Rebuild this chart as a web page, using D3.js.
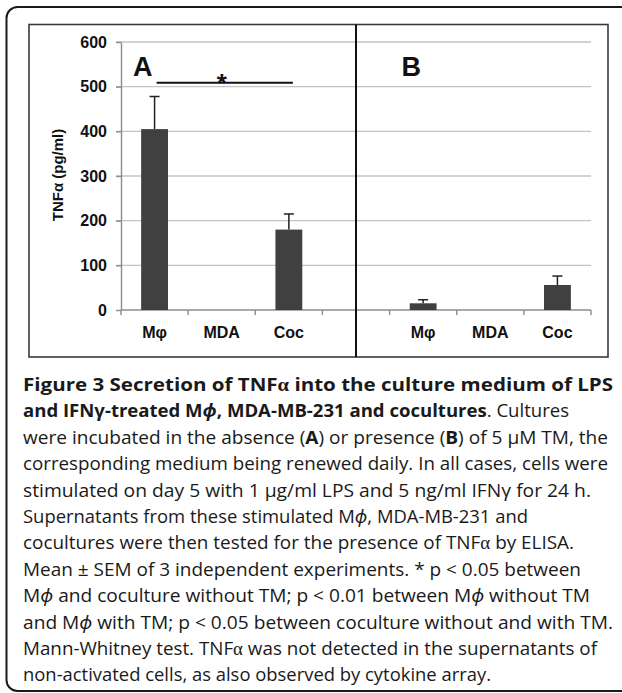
<!DOCTYPE html>
<html>
<head>
<meta charset="utf-8">
<script src="https://cdn.jsdelivr.net/npm/d3@7"></script>
<style>
  body { margin: 0; background: #fff; }
  svg { display: block; }
</style>
</head>
<body>
<svg></svg>
<script>
// data
const panels = ["A", "B"];
const categories = ["Mφ", "MDA", "Coc"];
const meansA = [405, 0, 180];
const semA = [73, 0, 35];
const meansB = [15, 0, 56];
const semB = [8, 0, 20];
const yTicks = [0, 100, 200, 300, 400, 500, 600];
const sigLevel = 509; // height of the "*" bracket in panel A

const captionLines = [
  [["Figure 3 Secretion of TNF", "b"], ["α", "bs"], [" into the culture medium of LPS", "b"]],
  [["and IFNγ-treated M", "b"], ["ϕ", "bi"], [", MDA-MB-231 and cocultures", "b"], [". Cultures", ""]],
  [["were incubated in the absence (", ""], ["A", "b"], [") or presence (", ""], ["B", "b"], [") of 5 µM TM, the", ""]],
  [["corresponding medium being renewed daily. In all cases, cells were", ""]],
  [["stimulated on day 5 with 1 µg/ml LPS and 5 ng/ml IFNγ for 24 h.", ""]],
  [["Supernatants from these stimulated M", ""], ["ϕ", "i"], [", MDA-MB-231 and", ""]],
  [["cocultures were then tested for the presence of TNF", ""], ["α", "s"], [" by ELISA.", ""]],
  [["Mean ± SEM of 3 independent experiments. * p < 0.05 between", ""]],
  [["M", ""], ["ϕ", "i"], [" and coculture without TM; p < 0.01 between M", ""], ["ϕ", "i"], [" without TM", ""]],
  [["and M", ""], ["ϕ", "i"], [" with TM; p < 0.05 between coculture without and with TM.", ""]],
  [["Mann-Whitney test. TNF", ""], ["α", "s"], [" was not detected in the supernatants of", ""]],
  [["non-activated cells, as also observed by cytokine array.", ""]]
];
const captionEnds = [613, 569, 608, 608, 591, 528, 574, 581, 590, 613, 597, 491];

const width = 622, height = 693;
const svg = d3.select("svg").attr("width", width).attr("height", height)
  .attr("viewBox", [0, 0, width, height]);

const plot = { left: 121, right: 591, top: 42, bottom: 310 };
const labelFont = "Liberation Sans, Arial, sans-serif";

// outer rounded frame and inner chart box
svg.append("rect")
  .attr("x", 6.5).attr("y", 7).attr("width", 640).attr("height", 684)
  .attr("rx", 11)
  .attr("fill", "none").attr("stroke", "#1a1a1a").attr("stroke-width", 2);

svg.append("rect")
  .attr("x", 29).attr("y", 24.5).attr("width", 579).attr("height", 332.5)
  .attr("fill", "none").attr("stroke", "#3a3a3a").attr("stroke-width", 1.6);

// 7 slots: 3 for panel A, an empty one, 3 for panel B
const slots = d3.range(categories.length * 2 + 1);
const x = d3.scaleBand().domain(slots).range([plot.left, plot.right]).padding(0);
const y = d3.scaleLinear().domain([0, 600]).range([plot.bottom, plot.top]);
const barW = x.bandwidth() * 0.4;

const rows = [];
panels.forEach((p, pi) => {
  const means = pi === 0 ? meansA : meansB;
  const sems = pi === 0 ? semA : semB;
  categories.forEach((c, i) => {
    rows.push({ panel: p, cat: c, slot: pi * (categories.length + 1) + i, mean: means[i], sem: sems[i] });
  });
});

// gridlines
svg.append("g")
  .selectAll("line")
  .data(yTicks.filter(d => d > 0))
  .join("line")
  .attr("x1", plot.left - 5).attr("x2", plot.right)
  .attr("y1", d => y(d)).attr("y2", d => y(d))
  .attr("stroke", "#c4c4c4").attr("stroke-width", 1.4);

// y axis
const yAxis = d3.axisLeft(y).tickValues(yTicks).tickSize(5).tickPadding(9).tickSizeOuter(0);
const gy = svg.append("g").attr("transform", `translate(${plot.left},0)`).call(yAxis);
gy.select(".domain").attr("stroke", "#8c8c8c").attr("stroke-width", 1.4);
gy.selectAll(".tick line").attr("stroke", "#8c8c8c").attr("stroke-width", 1.4);
gy.selectAll(".tick text")
  .attr("font-family", labelFont)
  .attr("font-weight", "bold").attr("font-size", 16).attr("fill", "#111");

// x axis: baseline, boundary ticks, labels
svg.append("line")
  .attr("x1", plot.left).attr("x2", plot.right)
  .attr("y1", y(0)).attr("y2", y(0))
  .attr("stroke", "#8c8c8c").attr("stroke-width", 1.4);

svg.append("g")
  .selectAll("line")
  .data(slots.concat([slots.length]))
  .join("line")
  .attr("x1", d => plot.left + d * x.step()).attr("x2", d => plot.left + d * x.step())
  .attr("y1", y(0)).attr("y2", y(0) + 5)
  .attr("stroke", "#8c8c8c").attr("stroke-width", 1.4);

svg.append("g")
  .selectAll("text")
  .data(rows)
  .join("text")
  .attr("x", d => x(d.slot) + x.bandwidth() / 2)
  .attr("y", 338)
  .attr("text-anchor", "middle")
  .attr("font-family", labelFont)
  .attr("font-weight", "bold").attr("font-size", 16).attr("fill", "#111")
  .text(d => d.cat);

// bars
svg.append("g")
  .selectAll("rect")
  .data(rows.filter(d => d.mean > 0))
  .join("rect")
  .attr("x", d => x(d.slot) + (x.bandwidth() - barW) / 2)
  .attr("y", d => y(d.mean))
  .attr("width", barW)
  .attr("height", d => y(0) - y(d.mean))
  .attr("fill", "#404040");

// error bars (upper only)
const eb = svg.append("g").attr("stroke", "#222").attr("stroke-width", 1.5);
rows.filter(d => d.mean > 0).forEach(d => {
  const cx = x(d.slot) + x.bandwidth() / 2;
  eb.append("line").attr("x1", cx).attr("x2", cx)
    .attr("y1", y(d.mean)).attr("y2", y(d.mean + d.sem));
  eb.append("line").attr("x1", cx - 5).attr("x2", cx + 5)
    .attr("y1", y(d.mean + d.sem)).attr("y2", y(d.mean + d.sem));
});

// divider between panels
const divX = x(categories.length) + x.bandwidth() / 2;
svg.append("line")
  .attr("x1", divX).attr("x2", divX).attr("y1", 24.5).attr("y2", 357)
  .attr("stroke", "#111").attr("stroke-width", 2);

// panel letters
panels.forEach((p, pi) => {
  svg.append("text")
    .attr("x", x(pi * (categories.length + 1)) + 12)
    .attr("y", 76)
    .attr("font-family", labelFont)
    .attr("font-weight", "bold").attr("font-size", 27).attr("fill", "#111")
    .text(p);
});

// significance bracket in panel A
const x0 = x(0) + x.bandwidth() / 2, x2 = x(2) + x.bandwidth() / 2;
svg.append("line")
  .attr("x1", x0 + 2).attr("x2", x2 + 4)
  .attr("y1", y(sigLevel)).attr("y2", y(sigLevel))
  .attr("stroke", "#111").attr("stroke-width", 2);
svg.append("text")
  .attr("x", (x0 + x2) / 2).attr("y", y(sigLevel) + 9)
  .attr("text-anchor", "middle")
  .attr("font-family", labelFont)
  .attr("font-weight", "bold").attr("font-size", 26).attr("fill", "#111")
  .text("*");

// y label
svg.append("text")
  .attr("transform", `translate(63,175) rotate(-90)`)
  .attr("text-anchor", "middle")
  .attr("font-family", labelFont)
  .attr("font-weight", "bold").attr("font-size", 15).attr("fill", "#111")
  .text("TNFα (pg/ml)");

// caption
const cap = svg.append("g")
  .attr("font-family", "Open Sans, Noto Sans, sans-serif")
  .attr("font-size", 18).attr("fill", "#1a1a1a");
captionLines.forEach((segs, i) => {
  const t = cap.append("text").attr("x", 23).attr("y", 391 + i * 26.4);
  segs.forEach(([s, st]) => {
    const sp = t.append("tspan").text(s);
    if (st.includes("b")) sp.attr("font-weight", "bold");
    if (st.includes("i")) sp.attr("font-style", "italic");
    if (st.includes("s")) sp.attr("font-family", "Liberation Serif, serif");
  });
  t.attr("textLength", captionEnds[i] - 23).attr("lengthAdjust", "spacingAndGlyphs");
});
</script>
</body>
</html>
